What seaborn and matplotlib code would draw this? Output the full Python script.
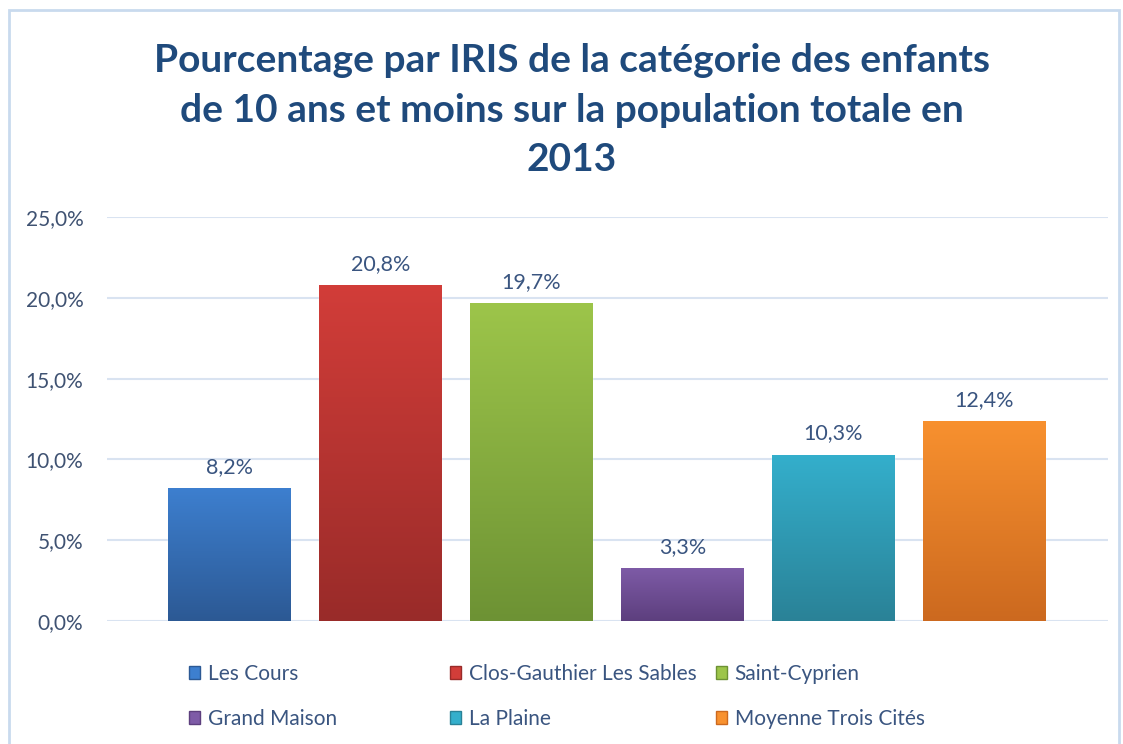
import matplotlib
matplotlib.use("Agg")
import matplotlib.pyplot as plt
from matplotlib.colors import LinearSegmentedColormap
from matplotlib.patches import Rectangle
import numpy as np
import seaborn as sns

# Data
categories = ["Les Cours", "Clos-Gauthier Les Sables", "Saint-Cyprien",
              "Grand Maison", "La Plaine", "Moyenne Trois Cités"]
values = [8.2, 20.8, 19.7, 3.3, 10.3, 12.4]
yticks = [0, 5, 10, 15, 20, 25]
top_colors = ["#3D7FCF", "#D23D39", "#9DC54A", "#7E5BA7", "#34AFCC", "#F8912F"]
bottom_colors = ["#2C5994", "#992B29", "#6D9234", "#5D3F7E", "#2A8297", "#CC691F"]
title = "Pourcentage par IRIS de la catégorie des enfants\nde 10 ans et moins sur la population totale en\n2013"

sns.set_style("white")
plt.rcParams["font.family"] = ["Lato", "DejaVu Sans"]

W, H = 1123, 744
fig = plt.figure(figsize=(W / 100, H / 100), dpi=100)
ax = fig.add_axes([107 / W, (H - 621) / H, (1108 - 107) / W, (621 - 217) / H])

sns.barplot(x=categories, y=values, hue=categories, palette=top_colors,
            legend=False, width=0.81, ax=ax, zorder=2)

# gradient fill on each bar
for patch, c_top, c_bot in zip(ax.patches, top_colors, bottom_colors):
    x0, y0 = patch.get_x(), patch.get_y()
    w, h = patch.get_width(), patch.get_height()
    cmap = LinearSegmentedColormap.from_list("g", [c_bot, c_top])
    grad = np.linspace(0, 1, 256).reshape(-1, 1)
    im = ax.imshow(grad, cmap=cmap, aspect="auto", origin="lower",
                   extent=[x0, x0 + w, y0, y0 + h], zorder=3)
    im.set_clip_path(patch)
    ax.annotate(f"{h:.1f}%".replace(".", ","), (x0 + w / 2, y0 + h),
                xytext=(0, 11), textcoords="offset pixels",
                ha="center", va="bottom", fontsize=15.5, color="#3A5580")

ax.set_xlim(-0.81, 5.82)
ax.set_ylim(0, 25)
ax.set_yticks(yticks)
ax.set_yticklabels([f"{t:.1f}%".replace(".", ",") for t in yticks],
                   fontsize=15, color="#3F5272")
ax.tick_params(axis="y", length=0, pad=17)
ax.set_xticks([])
ax.grid(axis="y", color="#D9E3F1", linewidth=1.5, zorder=0)
ax.set_axisbelow(True)
sns.despine(ax=ax, left=True, bottom=True)

fig.text(572 / W, 1 - 110 / H, title, ha="center", va="center",
         fontsize=28, fontweight="bold", color="#1F4A7C", linespacing=1.5)

# legend: three columns placed like the original
col_x = [189, 450, 716]
for ci, x in enumerate(col_x):
    idx = [ci, ci + 3]
    handles = [Rectangle((0, 0), 1, 1, facecolor=top_colors[i],
                         edgecolor=bottom_colors[i]) for i in idx]
    leg = fig.legend(handles, [categories[i] for i in idx],
                     loc="upper left", bbox_to_anchor=(x / W, 1 - 664 / H),
                     frameon=False, fontsize=15, labelcolor="#3A5580",
                     handlelength=0.55, handleheight=0.55, handletextpad=0.35,
                     labelspacing=1.2, borderaxespad=0, borderpad=0)

# chart border
fig.patches.append(Rectangle((9 / W, -0.1), (1119 - 9) / W, 1.1 - 10 / H,
                             transform=fig.transFigure, fill=False,
                             edgecolor="#C9DAEE", linewidth=2))

fig.savefig("out.png", dpi=100)
